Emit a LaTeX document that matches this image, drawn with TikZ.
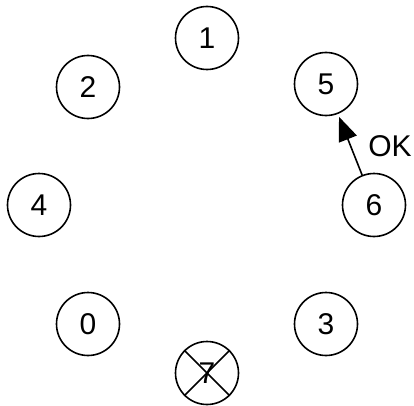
\documentclass[tikz,border=0pt]{standalone}
\usepackage{fontspec}
\setmainfont{Liberation Sans}
\usetikzlibrary{arrows.meta}

\begin{document}
\begin{tikzpicture}[x=1pt, y=1pt,
  proc/.style={draw, circle, line width=1.6pt, minimum size=63pt, inner sep=0pt,
    font=\fontsize{30}{36}\selectfont},
  msg/.style={line width=1.6pt, -{Triangle[length=24pt,width=19pt]}, shorten >=3pt}]
  \useasboundingbox (0,0) rectangle (414,405);

  % processes on the ring
  \node[proc] (n1) at (207,367) {1};
  \node[proc] (n2) at (88,318) {2};
  \node[proc] (n5) at (326,321) {5};
  \node[proc] (n4) at (39,200) {4};
  \node[proc] (n6) at (374,200) {6};
  \node[proc] (n0) at (88,81) {0};
  \node[proc] (n3) at (326,81) {3};
  \node[proc] (n7) at (207,32) {7};

  % crashed one
  \draw[line width=1.6pt] (n7.north west) -- (n7.south east);
  \draw[line width=1.6pt] (n7.north east) -- (n7.south west);

  \draw[msg] (n6) -- (n5);
  \node[font=\fontsize{30}{36}\selectfont] (ok) at (390,259) {OK};
\end{tikzpicture}
\end{document}
